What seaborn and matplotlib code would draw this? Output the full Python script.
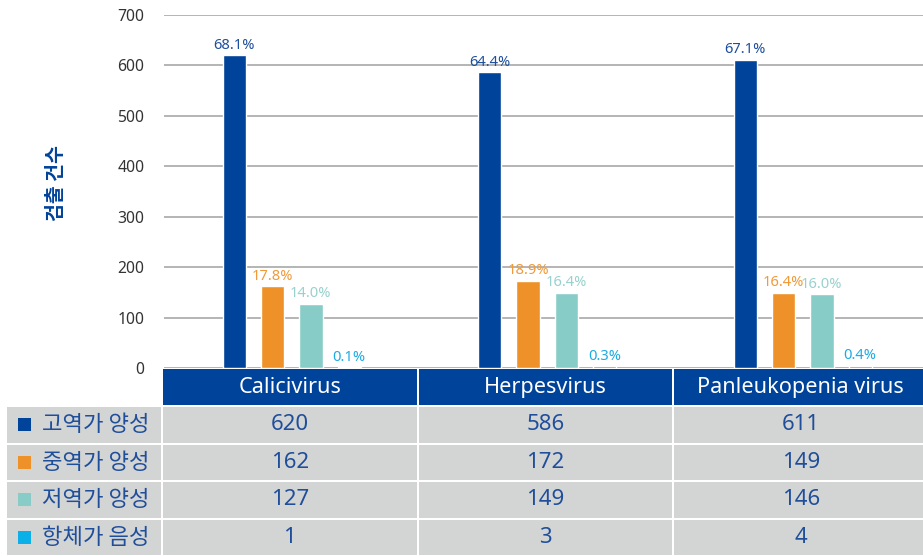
import matplotlib
matplotlib.use("Agg")
import matplotlib.pyplot as plt
import seaborn as sns
import pandas as pd
from matplotlib.patches import Rectangle

# ---------------- data ----------------
categories = ["Calicivirus", "Herpesvirus", "Panleukopenia virus"]
series = ["고역가 양성", "중역가 양성", "저역가 양성", "항체가 음성"]
high_pos = [620, 586, 611]
mid_pos = [162, 172, 149]
low_pos = [127, 149, 146]
negative = [1, 3, 4]
pct_high = ["68.1%", "64.4%", "67.1%"]
pct_mid = ["17.8%", "18.9%", "16.4%"]
pct_low = ["14.0%", "16.4%", "16.0%"]
pct_neg = ["0.1%", "0.3%", "0.4%"]
y_ticks = [0, 100, 200, 300, 400, 500, 600, 700]
y_label = "검출 건수"

values = [high_pos, mid_pos, low_pos, negative]
pcts = [pct_high, pct_mid, pct_low, pct_neg]

colors = ["#00439A", "#EE9129", "#88CCC8", "#0CB0E8"]
label_colors = ["#1D4F9E", "#F09A3A", "#98D2CE", "#1AABE4"]
navy = "#00439A"
table_text = "#1F4E9A"
cell_gray = "#D3D4D4"

sns.set_theme(style="white")
plt.rcParams["font.family"] = ["Noto Sans", "Noto Sans CJK KR", "DejaVu Sans"]

rows = []
for s, vals in zip(series, values):
    for c, v in zip(categories, vals):
        rows.append({"virus": c, "series": s, "count": v})
df = pd.DataFrame(rows)

W, H = 923, 556
fig = plt.figure(figsize=(W / 100, H / 100), dpi=100)
fig.patch.set_facecolor("white")

# ---------------- table (pixel coordinates) ----------------
tax = fig.add_axes([0, 0, 1, 1])
tax.set_xlim(0, W)
tax.set_ylim(H, 0)
tax.axis("off")
tax.patch.set_visible(False)

x_left = 162
col_w = 255.5
label_x0, label_x1 = 7, 161
header_top, header_h = 369, 37
row_h = 37.5

# header row
for j, cat in enumerate(categories):
    x0 = x_left + j * col_w
    tax.add_patch(Rectangle((x0 + 1, header_top), col_w - 2, header_h - 1,
                            facecolor=navy, edgecolor="none"))
    tax.text(x0 + col_w / 2, header_top + header_h / 2, cat, color="white",
             fontsize=15.6, ha="center", va="center")

# body rows
for i, (s, vals) in enumerate(zip(series, values)):
    y0 = header_top + header_h + i * row_h
    tax.add_patch(Rectangle((label_x0, y0 + 1), label_x1 - label_x0, row_h - 2,
                            facecolor=cell_gray, edgecolor="none"))
    tax.add_patch(Rectangle((18, y0 + row_h / 2 - 6.5), 13, 13,
                            facecolor=colors[i], edgecolor="none"))
    tax.text(42, y0 + row_h / 2, s, color=table_text, fontsize=16,
             ha="left", va="center", family=["Noto Sans CJK KR", "DejaVu Sans"])
    for j, v in enumerate(vals):
        x0 = x_left + j * col_w
        tax.add_patch(Rectangle((x0 + 1, y0 + 1), col_w - 2, row_h - 2,
                                facecolor=cell_gray, edgecolor="none"))
        tax.text(x0 + col_w / 2, y0 + row_h / 2, str(v), color=table_text,
                 fontsize=16, ha="center", va="center")

# ---------------- bar chart ----------------
y0_px, y700_px = 368, 15
ax = fig.add_axes([(x_left + 2) / W, (H - y0_px) / H, 3 * col_w / W, (y0_px - y700_px) / H])
sns.barplot(data=df, x="virus", y="count", hue="series", order=categories,
            hue_order=series, palette=colors, saturation=1, width=0.6, gap=0.39,
            legend=False, ax=ax, errorbar=None)

for cont, labs, lc in zip(ax.containers, pcts, label_colors):
    ax.bar_label(cont, labels=labs, color=lc, fontsize=10.6, padding=2)

ax.set_ylim(0, 700)
ax.set_xlim(-0.5, 2.5)
ax.set_yticks(y_ticks)
ax.set_yticklabels([str(t) for t in y_ticks])
ax.set_xticks([])
ax.set_xlabel("")
ax.set_ylabel("")
ax.yaxis.grid(True, color="#A8A8A8", linewidth=1.2)
ax.set_axisbelow(True)
for sp in ax.spines.values():
    sp.set_visible(False)
ax.tick_params(axis="y", length=0, pad=14, labelsize=11.3, labelcolor="#333333")
ax.patch.set_visible(False)

fig.text(57 / W, 1 - 183 / H, y_label, rotation=90, color=navy, fontsize=14,
         fontweight="bold", ha="center", va="center",
         family=["Noto Sans CJK KR", "DejaVu Sans"])

fig.savefig("out.png", dpi=100, facecolor="white")
